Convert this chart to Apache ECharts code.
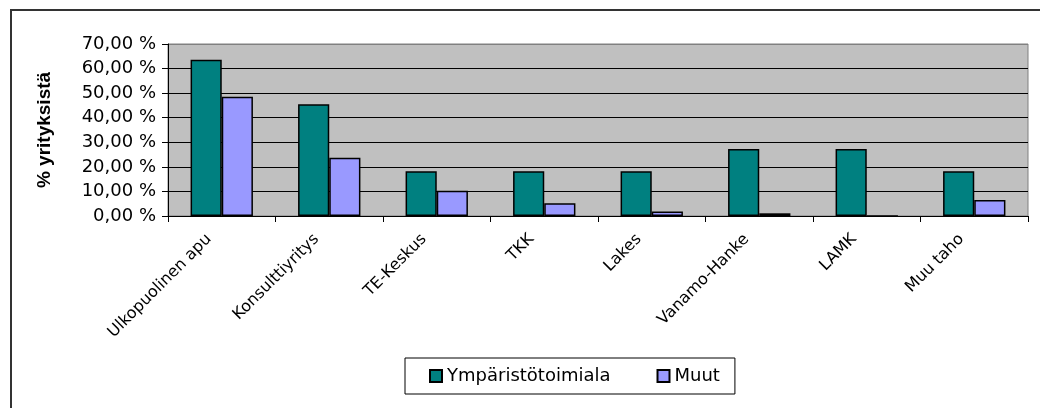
<!DOCTYPE html>
<html>
<head>
<meta charset="utf-8">
<script src="https://cdn.jsdelivr.net/npm/echarts@6/dist/echarts.min.js"></script>
<style>
html,body{margin:0;padding:0;background:#fff;}
#chart{width:1040px;height:408px;}
</style>
</head>
<body>
<div id="chart"></div>
<script>
// kategoriat ja sarjat
var categories = ['Ulkopuolinen apu', 'Konsulttiyritys', 'TE-Keskus', 'TKK', 'Lakes', 'Vanamo-Hanke', 'LAMK', 'Muu taho'];
var ymparisto = [63.64, 45.45, 18.18, 18.18, 18.18, 27.27, 27.27, 18.18];
var muut = [48.5, 23.7, 10.3, 5.2, 1.8, 1.1, 0, 6.5];
var yTickLabels = ['0,00 %', '10,00 %', '20,00 %', '30,00 %', '40,00 %', '50,00 %', '60,00 %', '70,00 %'];

var chart = echarts.init(document.getElementById('chart'));
var option = {
    backgroundColor: '#fff',
    animation: false,
    graphic: [{
        type: 'rect',
        shape: {x: 11, y: 10, width: 1200, height: 600},
        style: {fill: 'none', stroke: '#333', lineWidth: 2},
        silent: true
    }],
    grid: {
        left: 168,
        right: 12,
        top: 44,
        bottom: 192,
        show: true,
        backgroundColor: '#C0C0C0',
        borderColor: '#808080',
        borderWidth: 1
    },
    legend: {
        left: 405,
        top: 358,
        orient: 'horizontal',
        icon: 'rect',
        itemWidth: 12,
        itemHeight: 12,
        itemGap: 46,
        padding: [9, 15, 9, 24],
        borderColor: '#000',
        borderWidth: 1,
        textStyle: {fontFamily: 'DejaVu Sans', fontSize: 18, color: '#000'},
        data: ['Ympäristötoimiala', 'Muut']
    },
    xAxis: {
        type: 'category',
        data: categories,
        axisLine: {show: true, lineStyle: {color: '#000', width: 1}},
        axisTick: {show: true, length: 6, lineStyle: {color: '#000'}},
        axisLabel: {
            interval: 0,
            rotate: 45,
            margin: 8,
            padding: [0, 18, 0, 0],
            fontFamily: 'DejaVu Sans',
            fontSize: 16,
            color: '#000'
        },
        splitLine: {show: false}
    },
    yAxis: {
        type: 'value',
        min: 0,
        max: 70,
        interval: 10,
        name: '% yrityksistä',
        nameLocation: 'middle',
        nameGap: 114,
        nameRotate: 90,
        nameTextStyle: {fontFamily: 'Liberation Sans', fontWeight: 'bold', fontSize: 19, color: '#000'},
        axisLine: {show: true, lineStyle: {color: '#000', width: 1}},
        axisTick: {show: true, length: 6, inside: false, lineStyle: {color: '#000'}},
        axisLabel: {
            margin: 12,
            fontFamily: 'DejaVu Sans',
            fontSize: 18,
            color: '#000',
            formatter: function (v) { return yTickLabels[Math.round(v / 10)]; }
        },
        splitLine: {
            show: true,
            lineStyle: {color: ['#000', '#000', '#000', '#000', '#000', '#000', '#000', '#808080'], width: 1}
        }
    },
    series: [{
        name: 'Ympäristötoimiala',
        type: 'bar',
        barGap: '0%',
        barCategoryGap: '42%',
        itemStyle: {color: '#008080', borderColor: '#000', borderWidth: 1.5},
        data: ymparisto
    }, {
        name: 'Muut',
        type: 'bar',
        barGap: '0%',
        barCategoryGap: '42%',
        itemStyle: {color: '#9999FF', borderColor: '#000', borderWidth: 1.5},
        data: muut
    }]
};
chart.setOption(option);
</script>
</body>
</html>
